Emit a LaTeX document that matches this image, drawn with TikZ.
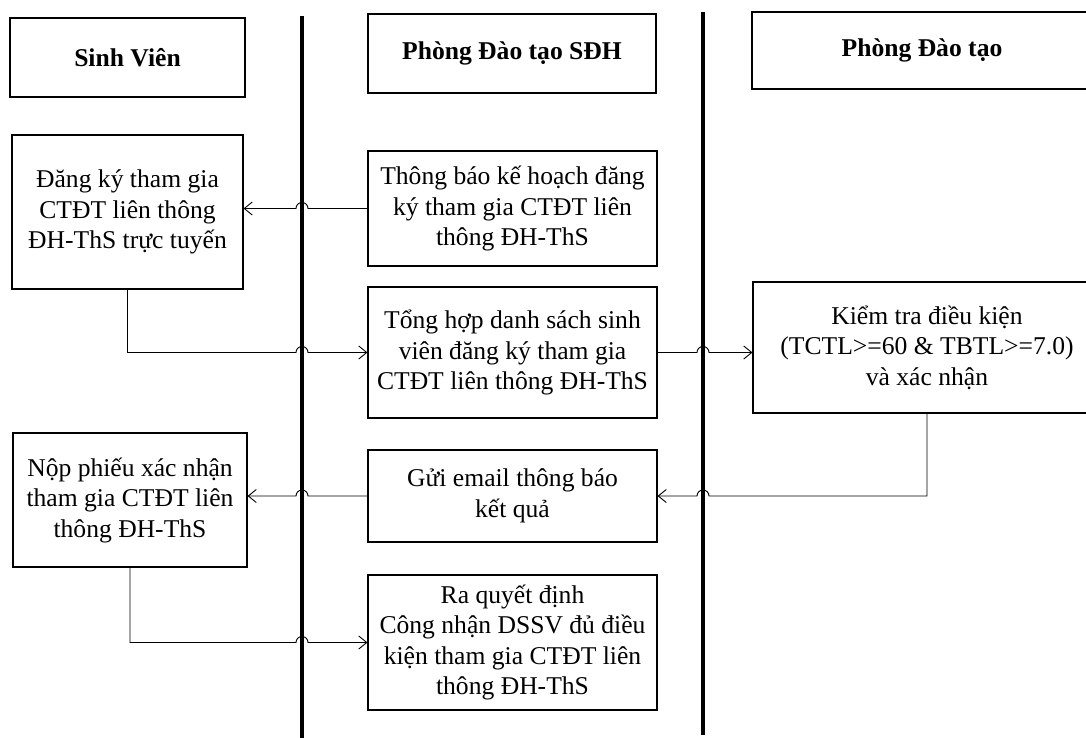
\documentclass[tikz,border=0pt]{standalone}
\usepackage{fontspec}
\setmainfont{Liberation Serif}
\usetikzlibrary{arrows.meta,calc}
\begin{document}
\begin{tikzpicture}[x=1pt,y=-1pt,
  box/.style={draw, line width=1.1pt, align=center, inner sep=0pt, font=\fontsize{25.6}{30.5}\selectfont},
  head/.style={box, font=\bfseries\fontsize{25.6}{30}\selectfont},
  conn/.style={line width=0.9pt},
  arr/.style={conn, -{Straight Barb[length=8pt,width=13pt]}},
  lane/.style={line width=4pt}]
\useasboundingbox[fill=white] (0,0) rectangle (1086,738);
% lanes
\coordinate (L1t) at (302,16); \coordinate (L1b) at (302,738);
\coordinate (L2t) at (703,12); \coordinate (L2b) at (703,735);
\draw[lane] (L1t) -- (L1b);
\draw[lane] (L2t) -- (L2b);
% headers
\node[head, minimum width=235pt, minimum height=79pt] (SV) at (127.5,57.5) {Sinh Viên};
\node[head, minimum width=288pt, minimum height=79pt] (SDH) at (512,53.5) {Phòng Đào tạo SĐH};
\node[head, minimum width=340pt, minimum height=77pt] (PDT) at (922,50.5) {Phòng Đào tạo};
% boxes
\node[box, minimum width=231pt, minimum height=154pt] (DK) at (127.5,212) {Đăng ký tham gia\\CTĐT liên thông\\ĐH-ThS trực tuyến};
\node[box, minimum width=289pt, minimum height=115pt] (TB) at (512.5,208.5) {Thông báo kế hoạch đăng\\ký tham gia CTĐT liên\\thông ĐH-ThS};
\node[box, minimum width=289pt, minimum height=131pt] (TH) at (512.5,352.5) {Tổng hợp danh sách sinh\\viên đăng ký tham gia\\CTĐT liên thông ĐH-ThS};
\node[box, minimum width=348pt, minimum height=131pt] (KT) at (927,347.5) {Kiểm tra điều kiện\\(TCTL>=60 \& TBTL>=7.0)\\và xác nhận};
\node[box, minimum width=289pt, minimum height=92pt] (GE) at (512.5,496) {Gửi email thông báo\\kết quả};
\node[box, minimum width=234pt, minimum height=134pt] (NP) at (130,500) {Nộp phiếu xác nhận\\tham gia CTĐT liên\\thông ĐH-ThS};
\node[box, minimum width=289pt, minimum height=135pt] (RQ) at (512.5,642.5) {Ra quyết định\\Công nhận DSSV đủ điều\\kiện tham gia CTĐT liên\\thông ĐH-ThS};
% connectors
\draw[arr] (TB.west) -- ([xshift=6pt]L1t |- TB.west) arc[start angle=0,end angle=180,radius=6pt] -- (DK.east |- TB.west);
\draw[arr] (DK.south) -- (DK.south |- TH.west) -- ([xshift=-6pt]L1t |- TH.west) arc[start angle=180,end angle=0,radius=6pt] -- (TH.west);
\draw[arr] (TH.east) -- ([xshift=-6pt]L2t |- TH.east) arc[start angle=180,end angle=0,radius=6pt] -- (KT.west |- TH.east);
\draw[arr] (KT.south) -- (KT.south |- GE.east) -- ([xshift=6pt]L2t |- GE.east) arc[start angle=0,end angle=180,radius=6pt] -- (GE.east);
\draw[arr] (GE.west) -- ([xshift=6pt]L1t |- GE.west) arc[start angle=0,end angle=180,radius=6pt] -- (NP.east |- GE.west);
\draw[arr] (NP.south) -- (NP.south |- RQ.west) -- ([xshift=-6pt]L1t |- RQ.west) arc[start angle=180,end angle=0,radius=6pt] -- (RQ.west);
\end{tikzpicture}
\end{document}
